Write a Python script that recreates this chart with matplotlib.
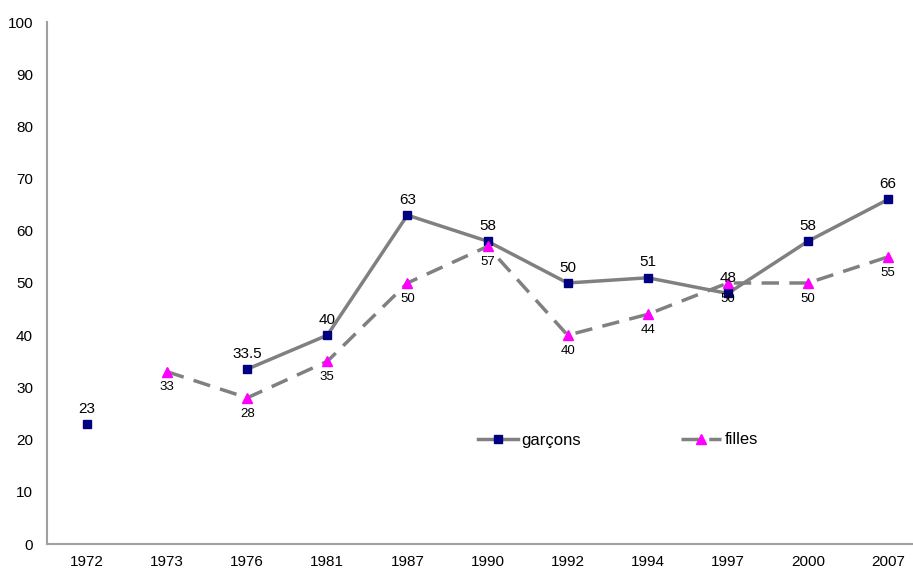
import matplotlib.pyplot as plt
import numpy as np

plt.rcParams['font.family'] = ['Liberation Sans', 'DejaVu Sans']

years = ['1972', '1973', '1976', '1981', '1987', '1990', '1992', '1994', '1997', '2000', '2007']
garcons = [23, np.nan, 33.5, 40, 63, 58, 50, 51, 48, 58, 66]
filles = [np.nan, 33, 28, 35, 50, 57, 40, 44, 50, 50, 55]

W, H = 913, 574
fig = plt.figure(figsize=(W / 100, H / 100), dpi=100)
ax = fig.add_axes([47 / W, 30 / H, (912 - 47) / W, (544 - 22) / H])

x = np.arange(len(years))
ax.plot(x, garcons, color='#808080', lw=2.5, marker='s', ms=6,
        mfc='#000080', mec='#000080', label='garçons')
ax.plot(x, filles, color='#808080', lw=2.5, ls=(0, (5, 3)), marker='^', ms=7,
        mfc='#ff00ff', mec='#ff00ff', label='filles')

for i, v in enumerate(garcons):
    if not np.isnan(v):
        ax.annotate(f'{v:g}', (i, v), xytext=(0, 6), textcoords='offset points',
                    ha='center', va='bottom', fontsize=11)
for i, v in enumerate(filles):
    if not np.isnan(v):
        ax.annotate(f'{v:g}', (i, v), xytext=(0, -7), textcoords='offset points',
                    ha='center', va='top', fontsize=9.5)

ax.set_xlim(-0.5, 10.3)
ax.set_ylim(0, 100)
ax.set_yticks(range(0, 101, 10))
ax.set_xticks(x)
ax.set_xticklabels(years)
ax.tick_params(length=0, labelsize=11, pad=8)
ax.tick_params(axis='y', pad=10)
for s in ['top', 'right']:
    ax.spines[s].set_visible(False)
for s in ['left', 'bottom']:
    ax.spines[s].set_color('#a0a0a0')
    ax.spines[s].set_linewidth(1.5)

ax.legend(loc='center', bbox_to_anchor=((618 - 47) / (912 - 47), (544 - 440) / (544 - 22)),
          ncol=2, frameon=False, fontsize=12, columnspacing=6, handlelength=2.4,
          handletextpad=0.2)

fig.savefig('out.png', dpi=100)
